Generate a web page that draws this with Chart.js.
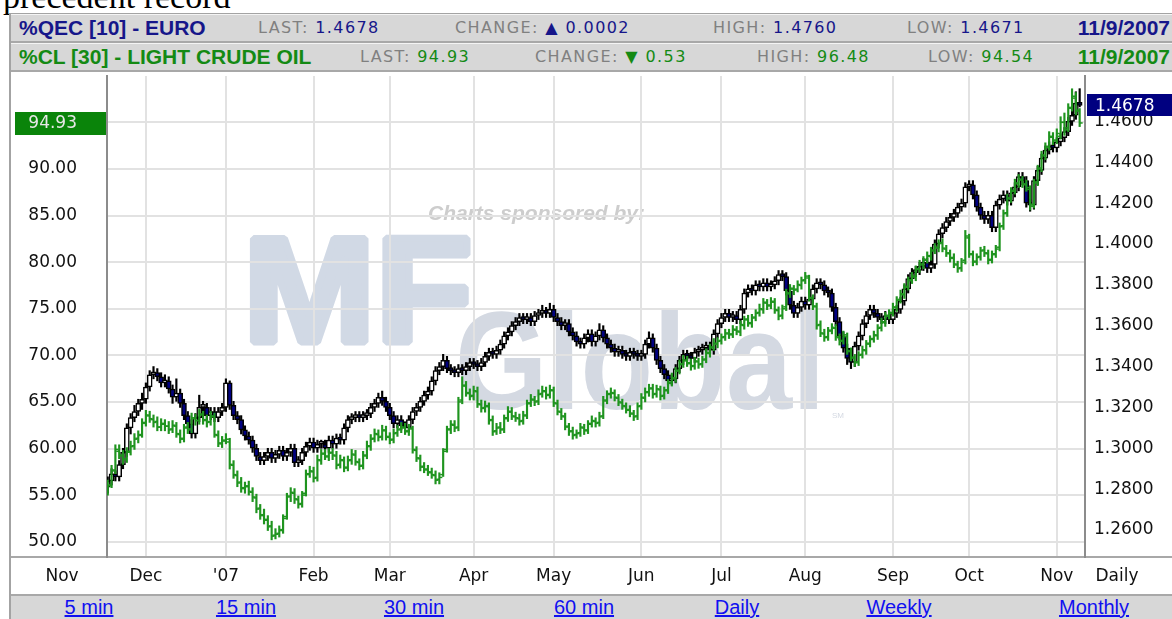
<!DOCTYPE html>
<html>
<head>
<meta charset="utf-8">
<script src="https://cdn.jsdelivr.net/npm/chart.js@4.4.0/dist/chart.umd.min.js"></script>
<style>
  html, body { margin: 0; padding: 0; }
  body { width: 1172px; height: 619px; overflow: hidden; position: relative; background: #fff; font-family: "DejaVu Sans", sans-serif; }
  #pre { position: absolute; left: 3px; top: -20px; font: 34px/34px "Liberation Serif", serif; color: #000; white-space: nowrap; }
  #frame { position: absolute; left: 9px; top: 13px; width: 1175px; height: 620px; border-left: 2px solid #a3a3a3; border-top: 2px solid #a3a3a3; }
  .row { position: absolute; left: 11px; right: 0; height: 26px; background: #d7d7d7; border-top: 1px solid #f4f4f4; border-bottom: 2px solid #a8a8a8; }
  #r1 { top: 14px; }
  #r2 { top: 43px; }
  .row span { position: absolute; top: 0; line-height: 26px; white-space: nowrap; }
  .name, .date { font: bold 21px "Liberation Sans", Arial, sans-serif; }
  .date { right: 2px; }
  .fld { font-size: 16px; letter-spacing: 1.4px; color: #808080; }
  .eu { color: #16168a; }
  .oil { color: #148a14; }
  #axisline { position: absolute; left: 11px; right: 0; top: 556px; height: 2px; background: #a8a8a8; }
  #links { position: absolute; left: 11px; right: 0; top: 594px; height: 25px; background: #d7d7d7; border-top: 2px solid #a8a8a8; }
  #links a { position: absolute; top: 0; line-height: 24px; transform: translateX(-50%); font: 20px "Liberation Sans", Arial, sans-serif; color: #1010f0; text-decoration: underline; white-space: nowrap; }
  #c { position: absolute; left: 0; top: 0; z-index: 2; }
</style>
</head>
<body>
<div id="pre">precedent record</div>
<div id="frame"></div>
<div class="row" id="r1">
  <span class="name eu" style="left:8px">%QEC [10] - EURO</span>
  <span class="fld" style="left:247px">LAST: <span class="eu" style="position:static">1.4678</span></span>
  <span class="fld" style="left:444px">CHANGE: <span class="eu" style="position:static">&#9650; 0.0002</span></span>
  <span class="fld" style="left:702px">HIGH: <span class="eu" style="position:static">1.4760</span></span>
  <span class="fld" style="left:896px">LOW: <span class="eu" style="position:static">1.4671</span></span>
  <span class="date eu">11/9/2007</span>
</div>
<div class="row" id="r2">
  <span class="name oil" style="left:8px">%CL [30] - LIGHT CRUDE OIL</span>
  <span class="fld" style="left:349px">LAST: <span class="oil" style="position:static">94.93</span></span>
  <span class="fld" style="left:524px">CHANGE: <span class="oil" style="position:static">&#9660; 0.53</span></span>
  <span class="fld" style="left:746px">HIGH: <span class="oil" style="position:static">96.48</span></span>
  <span class="fld" style="left:917px">LOW: <span class="oil" style="position:static">94.54</span></span>
  <span class="date oil">11/9/2007</span>
</div>
<div id="axisline"></div>
<div id="links">
  <a style="left:78px">5 min</a>
  <a style="left:235px">15 min</a>
  <a style="left:403px">30 min</a>
  <a style="left:573px">60 min</a>
  <a style="left:726px">Daily</a>
  <a style="left:888px">Weekly</a>
  <a style="left:1083px">Monthly</a>
</div>
<canvas id="c" width="1172" height="619"></canvas>
<script>
// x positions are weekday counts from Nov 1 2006; first bar is Nov 17 2006, last Nov 9 2007
const firstDay = 12;
const monthIdx = [0, 22, 43, 66, 86, 108, 129, 152, 173, 195, 218, 238, 261];
const monthLabels = ['Nov', 'Dec', "'07", 'Feb', 'Mar', 'Apr', 'May', 'Jun', 'Jul', 'Aug', 'Sep', 'Oct', 'Nov'];
const leftTicks = [50, 55, 60, 65, 70, 75, 80, 85, 90, 95];
const rightTicks = [1.26, 1.28, 1.30, 1.32, 1.34, 1.36, 1.38, 1.40, 1.42, 1.44, 1.46];

// %QEC euro, daily candles (right axis)
const euroOpen = [
  1.281,1.284,1.2875,1.286,1.292,1.298,1.310,1.315,1.318,1.322,
  1.324,1.330,1.336,1.337,1.335,1.332,1.333,1.329,1.325,1.327,
  1.322,1.316,1.312,1.307,1.315,1.320,1.320,1.316,1.318,1.315,
  1.318,1.320,1.332,1.321,1.316,1.314,1.309,1.306,1.304,1.300,
  1.296,1.294,1.296,1.298,1.295,1.297,1.299,1.296,1.298,1.300,
  1.293,1.294,1.298,1.301,1.303,1.300,1.302,1.302,1.300,1.304,
  1.302,1.305,1.304,1.310,1.314,1.315,1.316,1.315,1.316,1.317,
  1.320,1.322,1.325,1.323,1.320,1.316,1.312,1.314,1.311,1.310,
  1.314,1.318,1.320,1.323,1.326,1.328,1.333,1.338,1.340,1.343,
  1.339,1.338,1.337,1.339,1.338,1.340,1.342,1.341,1.340,1.342,
  1.345,1.347,1.346,1.348,1.351,1.355,1.357,1.360,1.362,1.364,
  1.363,1.364,1.362,1.365,1.366,1.367,1.366,1.368,1.364,1.362,
  1.360,1.361,1.357,1.355,1.352,1.351,1.354,1.356,1.352,1.355,
  1.358,1.354,1.351,1.349,1.347,1.348,1.346,1.345,1.347,1.346,
  1.345,1.346,1.351,1.354,1.349,1.343,1.339,1.336,1.333,1.334,
  1.339,1.343,1.346,1.345,1.344,1.347,1.348,1.349,1.350,1.348,
  1.356,1.361,1.364,1.366,1.364,1.365,1.363,1.368,1.376,1.378,
  1.377,1.380,1.379,1.381,1.379,1.380,1.382,1.385,1.384,1.377,
  1.370,1.366,1.369,1.372,1.370,1.373,1.378,1.381,1.380,1.377,
  1.376,1.369,1.362,1.355,1.349,1.344,1.342,1.350,1.355,1.361,
  1.365,1.368,1.366,1.364,1.363,1.365,1.363,1.366,1.368,1.372,
  1.378,1.383,1.386,1.387,1.389,1.391,1.388,1.390,1.400,1.405,
  1.408,1.411,1.413,1.415,1.418,1.420,1.428,1.429,1.424,1.418,
  1.414,1.412,1.414,1.408,1.419,1.422,1.424,1.421,1.425,1.428,
  1.433,1.431,1.420,1.419,1.431,1.436,1.442,1.446,1.448,1.447,
  1.450,1.452,1.455,1.460,1.463,1.469];
const euroHigh = [
  1.286,1.290,1.289,1.294,1.300,1.312,1.317,1.321,1.324,1.327,
  1.332,1.338,1.340,1.339,1.337,1.336,1.335,1.331,1.334,1.329,
  1.324,1.318,1.314,1.317,1.326,1.323,1.322,1.320,1.320,1.320,
  1.322,1.334,1.333,1.323,1.318,1.316,1.311,1.308,1.306,1.302,
  1.298,1.298,1.300,1.300,1.299,1.301,1.301,1.300,1.302,1.302,
  1.296,1.300,1.303,1.305,1.305,1.304,1.304,1.304,1.306,1.306,
  1.307,1.307,1.312,1.316,1.317,1.318,1.318,1.318,1.319,1.322,
  1.324,1.327,1.328,1.325,1.322,1.318,1.316,1.316,1.313,1.316,
  1.320,1.322,1.325,1.328,1.330,1.335,1.340,1.342,1.346,1.345,
  1.341,1.340,1.341,1.341,1.342,1.344,1.344,1.343,1.344,1.347,
  1.349,1.349,1.350,1.353,1.357,1.359,1.362,1.364,1.366,1.366,
  1.366,1.366,1.367,1.368,1.370,1.369,1.371,1.370,1.366,1.364,
  1.363,1.363,1.359,1.357,1.354,1.356,1.358,1.358,1.357,1.361,
  1.360,1.356,1.353,1.351,1.350,1.350,1.348,1.349,1.349,1.348,
  1.348,1.353,1.357,1.356,1.351,1.345,1.341,1.338,1.336,1.341,
  1.345,1.348,1.348,1.347,1.349,1.350,1.351,1.352,1.352,1.358,
  1.363,1.366,1.368,1.368,1.367,1.367,1.370,1.378,1.380,1.380,
  1.382,1.382,1.383,1.383,1.382,1.384,1.387,1.387,1.386,1.379,
  1.372,1.371,1.374,1.374,1.375,1.380,1.383,1.383,1.382,1.379,
  1.378,1.371,1.364,1.357,1.351,1.347,1.352,1.357,1.363,1.367,
  1.370,1.370,1.368,1.366,1.367,1.367,1.368,1.370,1.374,1.380,
  1.385,1.388,1.389,1.391,1.393,1.393,1.392,1.402,1.407,1.410,
  1.413,1.415,1.417,1.420,1.422,1.430,1.431,1.431,1.426,1.420,
  1.416,1.416,1.416,1.421,1.424,1.426,1.426,1.427,1.430,1.435,
  1.435,1.433,1.422,1.433,1.438,1.444,1.448,1.450,1.450,1.452,
  1.454,1.457,1.462,1.466,1.4745,1.4760];
const euroLow = [
  1.278,1.282,1.284,1.284,1.290,1.296,1.307,1.313,1.316,1.319,
  1.322,1.328,1.334,1.333,1.330,1.330,1.327,1.322,1.323,1.320,
  1.314,1.310,1.305,1.305,1.313,1.317,1.314,1.314,1.313,1.313,
  1.316,1.318,1.319,1.314,1.312,1.307,1.304,1.302,1.298,1.294,
  1.292,1.292,1.294,1.293,1.293,1.295,1.294,1.294,1.296,1.291,
  1.291,1.292,1.296,1.299,1.298,1.298,1.300,1.298,1.298,1.300,
  1.300,1.302,1.302,1.308,1.312,1.313,1.313,1.313,1.314,1.315,
  1.318,1.320,1.321,1.318,1.314,1.310,1.310,1.309,1.308,1.308,
  1.312,1.316,1.318,1.321,1.324,1.326,1.331,1.336,1.338,1.337,
  1.336,1.335,1.335,1.336,1.336,1.338,1.339,1.338,1.338,1.340,
  1.343,1.344,1.344,1.346,1.349,1.353,1.355,1.358,1.360,1.361,
  1.361,1.360,1.360,1.363,1.364,1.364,1.364,1.362,1.360,1.358,
  1.358,1.355,1.353,1.350,1.349,1.349,1.352,1.350,1.350,1.353,
  1.352,1.349,1.347,1.345,1.345,1.344,1.343,1.343,1.344,1.343,
  1.343,1.344,1.349,1.347,1.341,1.337,1.334,1.331,1.331,1.332,
  1.337,1.341,1.343,1.342,1.342,1.345,1.346,1.347,1.346,1.346,
  1.354,1.359,1.362,1.362,1.362,1.361,1.361,1.366,1.374,1.375,
  1.375,1.377,1.377,1.377,1.377,1.378,1.380,1.382,1.375,1.368,
  1.364,1.364,1.367,1.368,1.368,1.371,1.376,1.378,1.375,1.374,
  1.367,1.360,1.353,1.347,1.341,1.339,1.340,1.348,1.353,1.359,
  1.363,1.364,1.362,1.361,1.361,1.361,1.361,1.364,1.366,1.370,
  1.376,1.381,1.384,1.385,1.387,1.386,1.386,1.388,1.398,1.403,
  1.406,1.409,1.411,1.413,1.416,1.418,1.426,1.422,1.416,1.412,
  1.410,1.410,1.406,1.406,1.417,1.420,1.419,1.419,1.423,1.426,
  1.429,1.418,1.416,1.417,1.429,1.434,1.440,1.444,1.445,1.445,
  1.448,1.450,1.453,1.458,1.461,1.4671];
const euroClose = [
  1.284,1.2875,1.286,1.292,1.298,1.310,1.315,1.318,1.322,1.324,
  1.330,1.336,1.337,1.335,1.332,1.333,1.329,1.325,1.327,1.322,
  1.316,1.312,1.307,1.315,1.320,1.320,1.316,1.318,1.315,1.318,
  1.320,1.332,1.321,1.316,1.314,1.309,1.306,1.304,1.300,1.296,
  1.294,1.296,1.298,1.295,1.297,1.299,1.296,1.298,1.300,1.293,
  1.294,1.298,1.301,1.303,1.300,1.302,1.302,1.300,1.304,1.302,
  1.305,1.304,1.310,1.314,1.315,1.316,1.315,1.316,1.317,1.320,
  1.322,1.325,1.323,1.320,1.316,1.312,1.314,1.311,1.310,1.314,
  1.318,1.320,1.323,1.326,1.328,1.333,1.338,1.340,1.343,1.339,
  1.338,1.337,1.339,1.338,1.340,1.342,1.341,1.340,1.342,1.345,
  1.347,1.346,1.348,1.351,1.355,1.357,1.360,1.362,1.364,1.363,
  1.364,1.362,1.365,1.366,1.367,1.366,1.368,1.364,1.362,1.360,
  1.361,1.357,1.355,1.352,1.351,1.354,1.356,1.352,1.355,1.358,
  1.354,1.351,1.349,1.347,1.348,1.346,1.345,1.347,1.346,1.345,
  1.346,1.351,1.354,1.349,1.343,1.339,1.336,1.333,1.334,1.339,
  1.343,1.346,1.345,1.344,1.347,1.348,1.349,1.350,1.348,1.356,
  1.361,1.364,1.366,1.364,1.365,1.363,1.368,1.376,1.378,1.377,
  1.380,1.379,1.381,1.379,1.380,1.382,1.385,1.384,1.377,1.370,
  1.366,1.369,1.372,1.370,1.373,1.378,1.381,1.380,1.377,1.376,
  1.369,1.362,1.355,1.349,1.344,1.342,1.350,1.355,1.361,1.365,
  1.368,1.366,1.364,1.363,1.365,1.363,1.366,1.368,1.372,1.378,
  1.383,1.386,1.387,1.389,1.391,1.388,1.390,1.400,1.405,1.408,
  1.411,1.413,1.415,1.418,1.420,1.428,1.429,1.424,1.418,1.414,
  1.412,1.414,1.408,1.419,1.422,1.424,1.421,1.425,1.428,1.433,
  1.431,1.420,1.419,1.431,1.436,1.442,1.446,1.448,1.447,1.450,
  1.452,1.455,1.460,1.463,1.469,1.4678];

// %CL light crude oil, daily OHLC bars (left axis)
const oilOpen = [
  55.6,56.1,57.7,59.7,59.2,58.9,59.7,60.3,61.1,61.5,
  62.8,63.5,63.1,62.9,62.3,62.6,62.4,62.1,62.4,61.5,
  61.1,62.3,62.1,63.2,63.0,63.6,63.1,62.9,63.4,61.4,
  60.5,60.9,60.7,58.2,57.1,56.4,55.7,56.0,55.3,54.7,
  53.6,52.9,52.3,51.7,50.7,50.9,51.3,52.7,54.9,55.2,
  54.5,54.1,55.2,57.3,57.5,56.9,58.7,59.5,59.1,59.6,
  59.2,58.3,58.7,58.0,58.8,59.3,58.5,58.2,59.3,60.2,
  61.1,61.5,61.3,61.9,61.2,61.0,61.7,62.1,62.2,61.8,
  62.1,59.8,58.9,58.1,57.7,57.4,57.1,56.7,57.2,59.9,
  62.1,62.5,62.3,65.2,66.7,65.9,65.7,66.1,64.7,64.4,
  64.5,63.1,61.9,62.3,62.1,63.3,63.9,63.4,63.2,63.0,
  63.6,64.9,65.2,65.1,65.9,66.1,65.8,66.2,64.8,63.9,
  63.4,62.3,61.9,61.5,61.7,62.2,62.0,62.7,62.9,62.8,
  63.5,65.1,65.9,65.9,65.4,64.9,64.5,64.1,63.7,63.5,
  64.6,65.4,66.0,66.4,65.9,66.3,65.7,66.3,67.1,67.5,
  68.4,69.1,69.4,69.1,68.9,69.3,69.1,69.6,70.2,70.9,
  71.2,71.6,72.0,72.3,72.3,72.7,72.5,73.2,73.9,73.4,
  74.1,74.6,74.9,75.6,75.4,75.7,74.8,74.3,75.2,76.6,
  77.1,77.1,77.5,78.1,78.3,76.1,75.2,73.3,72.3,72.0,
  72.7,72.9,71.9,71.6,72.0,70.4,69.7,69.3,70.1,70.5,
  71.3,71.8,72.1,73.0,73.5,74.3,74.6,75.1,76.0,76.5,
  77.4,78.1,78.4,79.3,79.7,80.3,80.6,81.3,81.5,82.1,
  81.4,80.9,80.5,79.7,79.4,80.2,82.6,80.8,80.1,80.6,
  81.3,80.9,80.3,80.9,81.6,83.9,85.3,86.8,87.7,88.4,
  88.8,88.3,87.8,86.2,88.6,90.1,91.4,92.4,93.4,93.1,
  93.5,95.0,94.4,96.5,97.6,96.3];
const oilHigh = [
  56.6,58.2,60.4,60.4,59.8,60.1,60.8,61.6,61.9,63.2,
  64.1,64.0,63.6,63.4,63.2,63.1,62.9,63.0,62.8,62.0,
  62.6,62.8,63.8,63.7,64.2,64.0,63.6,64.0,63.8,61.9,
  61.3,61.6,61.1,58.7,57.6,56.9,56.4,56.5,55.8,55.1,
  54.0,53.5,52.8,52.2,51.4,51.7,52.9,55.2,55.8,55.7,
  54.9,55.4,57.7,58.1,58.0,59.3,59.9,59.9,60.0,60.0,
  59.7,59.3,59.1,59.2,59.9,59.8,58.9,59.7,60.8,61.5,
  62.1,62.0,62.5,62.4,61.7,62.1,62.5,62.8,62.7,62.6,
  62.4,60.2,59.3,58.5,58.2,57.9,57.6,57.4,60.0,62.4,
  63.0,63.0,65.5,67.7,67.2,66.4,66.7,66.6,65.2,65.1,
  64.9,63.5,62.7,62.8,63.6,64.5,64.4,63.9,63.7,64.0,
  65.2,65.8,65.6,66.3,66.7,66.6,66.8,66.6,65.2,64.3,
  63.8,62.7,62.3,62.0,62.7,62.6,63.0,63.5,63.3,63.9,
  65.6,66.2,66.5,66.3,65.8,65.3,64.9,64.6,64.1,64.9,
  65.9,66.5,66.9,66.9,66.8,66.7,66.6,67.4,68.1,68.7,
  69.5,70.0,69.9,69.6,69.8,69.7,69.9,70.7,71.2,71.8,
  71.9,72.3,72.8,72.8,73.2,73.1,73.7,74.2,74.3,74.4,
  74.9,75.5,76.1,76.0,76.2,76.1,75.2,75.4,77.1,77.6,
  77.5,78.0,78.4,78.9,78.6,76.5,75.6,73.7,72.8,73.0,
  73.4,73.3,72.3,72.6,72.4,70.8,70.1,70.4,71.0,71.6,
  72.1,72.6,73.3,74.0,74.6,74.9,75.6,76.3,77.0,77.7,
  78.4,78.9,79.6,80.2,80.6,81.1,81.6,82.0,82.4,82.5,
  81.8,81.3,80.9,80.1,80.4,83.4,83.0,81.2,80.9,81.6,
  81.7,81.3,81.2,81.8,84.2,85.6,87.3,88.0,88.9,89.4,
  89.2,88.8,88.2,88.9,90.4,91.9,92.8,94.0,93.9,94.3,
  95.6,96.0,97.0,98.6,98.2,96.48];
const oilLow = [
  55.0,55.8,57.3,58.9,58.3,58.5,59.3,59.9,60.6,61.2,
  62.4,62.8,62.3,61.9,61.9,61.9,61.6,61.7,61.2,60.6,
  60.7,61.6,61.7,62.5,62.6,62.6,62.3,62.5,61.2,60.2,
  60.1,60.5,57.8,56.8,55.9,55.3,55.2,55.0,54.3,53.1,
  52.4,51.9,51.2,50.2,50.3,50.5,50.9,52.4,54.3,54.1,
  53.6,53.7,54.9,56.9,56.4,56.5,58.3,58.8,58.7,58.8,
  57.8,57.9,57.5,57.6,58.3,58.2,57.7,57.8,58.9,59.8,
  60.7,60.8,60.9,60.9,60.5,60.6,61.3,61.7,61.5,61.4,
  59.5,58.6,57.6,57.4,57.1,56.8,56.2,56.2,57.0,59.6,
  61.6,61.8,61.9,64.8,65.6,65.2,65.2,64.4,63.9,63.9,
  62.6,61.4,61.5,61.6,61.7,62.9,63.1,62.9,62.5,62.6,
  63.2,64.5,64.6,64.7,65.5,65.3,65.4,64.5,63.6,63.1,
  62.0,61.4,61.0,61.1,61.3,61.5,61.6,62.3,62.3,62.4,
  63.2,64.8,65.4,65.1,64.6,64.2,63.8,63.4,63.0,63.1,
  64.2,65.0,65.6,65.4,65.5,65.2,65.3,65.9,66.7,67.1,
  68.0,68.7,68.8,68.4,68.5,68.6,68.7,69.2,69.8,70.5,
  70.8,71.2,71.6,71.8,71.9,72.2,72.1,72.8,73.1,73.0,
  73.7,74.2,74.5,74.9,75.0,74.5,73.8,73.9,74.8,76.2,
  76.5,76.8,77.1,77.7,75.8,74.9,72.8,72.0,71.5,71.6,
  72.3,71.6,71.1,71.2,70.1,69.4,68.8,68.9,69.7,70.1,
  70.9,71.4,71.7,72.6,73.1,73.9,74.2,74.7,75.6,76.1,
  77.0,77.7,78.0,78.9,79.3,79.9,80.2,80.9,81.1,81.1,
  80.6,80.0,79.4,78.9,79.0,79.8,80.5,79.6,79.7,80.2,
  80.6,79.8,79.9,80.5,81.2,83.5,84.9,86.4,87.3,88.0,
  88.0,87.6,85.6,85.8,88.2,89.7,91.0,92.0,92.6,92.7,
  93.2,93.6,94.0,96.2,95.8,94.54];
const oilClose = [
  56.0,57.6,59.9,59.3,58.8,59.6,60.2,61.0,61.4,62.7,
  63.6,63.2,62.8,62.3,62.7,62.4,62.0,62.5,61.6,61.0,
  62.2,62.0,63.3,63.0,63.7,63.0,62.8,63.5,61.5,60.6,
  60.8,61.0,58.3,57.2,56.3,55.8,55.9,55.4,54.8,53.5,
  52.8,52.4,51.6,50.6,50.8,51.2,52.5,54.8,55.3,54.6,
  54.0,55.0,57.2,57.6,56.8,58.8,59.4,59.2,59.5,59.3,
  58.2,58.8,57.9,58.7,59.4,58.6,58.1,59.2,60.3,61.0,
  61.6,61.2,62.0,61.3,60.9,61.6,62.0,62.3,61.9,62.2,
  59.9,59.0,58.0,57.8,57.5,57.2,56.6,56.9,59.7,62.0,
  62.6,62.2,65.0,66.8,66.0,65.6,66.2,64.8,64.3,64.6,
  63.0,61.8,62.2,62.0,63.2,64.0,63.5,63.3,62.9,63.5,
  64.8,65.3,65.0,65.8,66.2,65.7,66.3,64.9,64.0,63.5,
  62.4,61.8,61.4,61.6,62.3,61.9,62.6,63.0,62.7,63.4,
  65.2,65.8,66.0,65.5,65.0,64.6,64.2,63.8,63.4,64.5,
  65.5,66.1,66.5,65.8,66.4,65.6,66.2,67.0,67.6,68.3,
  69.0,69.5,69.2,68.8,69.4,69.0,69.5,70.3,70.8,71.3,
  71.5,71.9,72.4,72.2,72.8,72.6,73.3,73.8,73.5,74.0,
  74.5,75.0,75.7,75.3,75.8,74.9,74.2,75.0,76.7,77.2,
  77.0,77.6,78.0,78.5,76.2,75.3,73.2,72.4,71.9,72.6,
  73.0,72.0,71.5,72.2,70.5,69.8,69.2,70.0,70.6,71.2,
  71.7,72.2,72.9,73.6,74.2,74.5,75.2,75.9,76.6,77.3,
  78.0,78.5,79.2,79.8,80.2,80.7,81.2,81.6,82.0,81.5,
  81.0,80.4,79.8,79.3,80.0,82.8,80.9,80.0,80.5,81.2,
  81.0,80.2,80.8,81.4,83.8,85.2,86.9,87.6,88.5,88.9,
  88.4,88.0,86.0,88.5,90.0,91.5,92.3,93.5,93.0,93.8,
  95.0,94.2,96.6,97.8,96.2,94.93];

const GREEN = '#1f941f';
const NAVY = '#000080';
const days = euroClose.map((v, i) => firstDay + i);

const pts = (a, b) => days.map((d, i) => ({ x: d, y: b ? [a[i], b[i]] : a[i] }));

// watermark, last-value boxes and month labels
const decor = {
  id: 'decor',
  beforeDraw(chart) {
    const ctx = chart.ctx;
    ctx.save();
    ctx.fillStyle = ctx.strokeStyle = '#d1d9e5';
    ctx.lineWidth = 7;
    ctx.lineJoin = 'bevel';
    ctx.font = 'bold 150px "Liberation Sans", Arial';
    ctx.save();
    ctx.translate(243, 342);
    ctx.scale(1.06, 1);
    ctx.fillText('MF', 0, 0);
    ctx.strokeText('MF', 0, 0);
    ctx.restore();
    ctx.fillStyle = '#d4d9e2';
    ctx.save();
    ctx.translate(455, 409);
    ctx.scale(0.85, 1);
    ctx.font = 'bold 140px "Liberation Sans", Arial';
    ctx.fillText('Global', 0, 0);
    ctx.restore();
    ctx.font = '8px "Liberation Sans", Arial';
    ctx.fillText('SM', 832, 418);
    ctx.fillStyle = '#cdcdcd';
    ctx.font = 'bold italic 21px "Liberation Sans", Arial';
    ctx.fillText('Charts sponsored by:', 428, 220);
    ctx.restore();
  },
  afterDraw(chart) {
    const ctx = chart.ctx;
    const x = chart.scales.x, yL = chart.scales.yL, yR = chart.scales.yR;
    ctx.save();
    ctx.font = '17px "DejaVu Sans"';
    ctx.textBaseline = 'middle';
    ctx.fillStyle = '#111';
    ctx.textAlign = 'center';
    monthIdx.forEach((d, i) => ctx.fillText(monthLabels[i], x.getPixelForValue(d), 577));
    ctx.fillText('Daily', 1117, 577);

    const lastOil = oilClose[oilClose.length - 1];
    const lastEuro = euroClose[euroClose.length - 1];
    let y = yL.getPixelForValue(lastOil);
    ctx.fillStyle = '#0a840a';
    ctx.fillRect(15, Math.round(y) - 11, 91, 23);
    ctx.fillStyle = '#e8e8e8';
    ctx.textAlign = 'right';
    ctx.fillText(lastOil.toFixed(2), 77, y + 1);
    y = yR.getPixelForValue(lastEuro);
    ctx.fillStyle = NAVY;
    ctx.fillRect(1087, Math.round(y) - 11, 85, 22);
    ctx.fillStyle = '#ffffff';
    ctx.textAlign = 'left';
    ctx.fillText(lastEuro.toFixed(4), 1095, y + 1);
    ctx.restore();
  }
};

new Chart(document.getElementById('c'), {
  type: 'bar',
  data: {
    datasets: [
      { // crude close ticks
        type: 'line', data: pts(oilClose), yAxisID: 'yL', showLine: false,
        pointStyle: 'dash', pointRotation: 0, pointRadius: 3, pointBorderColor: GREEN,
        pointBorderWidth: 1.5, order: 0
      },
      { // crude open ticks
        type: 'line', data: pts(oilOpen), yAxisID: 'yL', showLine: false,
        pointStyle: 'dash', pointRotation: 180, pointRadius: 3, pointBorderColor: GREEN,
        pointBorderWidth: 1.5, order: 1
      },
      { // crude high-low
        data: pts(oilLow, oilHigh), yAxisID: 'yL', backgroundColor: GREEN,
        barThickness: 1.5, grouped: false, order: 2
      },
      { // euro bodies
        data: pts(euroOpen, euroClose), yAxisID: 'yR',
        backgroundColor: euroClose.map((c, i) => c < euroOpen[i] ? NAVY : '#ffffff'),
        borderColor: '#000', borderWidth: 1.5, borderSkipped: false,
        barThickness: 5, minBarLength: 3, grouped: false, order: 3
      },
      { // euro wicks
        data: pts(euroLow, euroHigh), yAxisID: 'yR', backgroundColor: '#000',
        barThickness: 1.5, grouped: false, order: 4
      }
    ]
  },
  options: {
    responsive: false,
    devicePixelRatio: 1,
    animation: false,
    events: [],
    layout: { padding: { left: 10, top: 76, right: 0, bottom: 0 } },
    plugins: { legend: { display: false }, tooltip: { enabled: false } },
    scales: {
      x: {
        type: 'linear', min: 11.8, max: 268.4, offset: false,
        afterBuildTicks: s => { s.ticks = monthIdx.filter(v => v > s.min && v < s.max).map(v => ({ value: v })); },
        afterFit: s => { s.height = 62; },
        ticks: { display: false },
        grid: { color: '#e2e2e2', lineWidth: 2, drawTicks: false, offset: false },
        border: { display: true, color: '#a8a8a8', width: 2 }
      },
      yL: {
        position: 'left', min: 48.36, max: 99.97,
        afterBuildTicks: s => { s.ticks = leftTicks.map(v => ({ value: v })); },
        afterFit: s => { s.width = 97; },
        ticks: { padding: 30, color: '#111', font: { family: 'DejaVu Sans', size: 17 }, callback: v => v.toFixed(2) },
        grid: { color: '#e2e2e2', lineWidth: 2, drawTicks: false },
        border: { color: '#8c8c8c', width: 2 }
      },
      yR: {
        position: 'right', min: 1.2468, max: 1.4822,
        afterBuildTicks: s => { s.ticks = rightTicks.map(v => ({ value: v })); },
        afterFit: s => { s.width = 87; },
        ticks: { padding: 9, color: '#111', font: { family: 'DejaVu Sans', size: 17 }, callback: v => v.toFixed(4) },
        grid: { drawOnChartArea: false, drawTicks: false },
        border: { color: '#8c8c8c', width: 2 }
      }
    }
  },
  plugins: [decor]
});
</script>
</body>
</html>
